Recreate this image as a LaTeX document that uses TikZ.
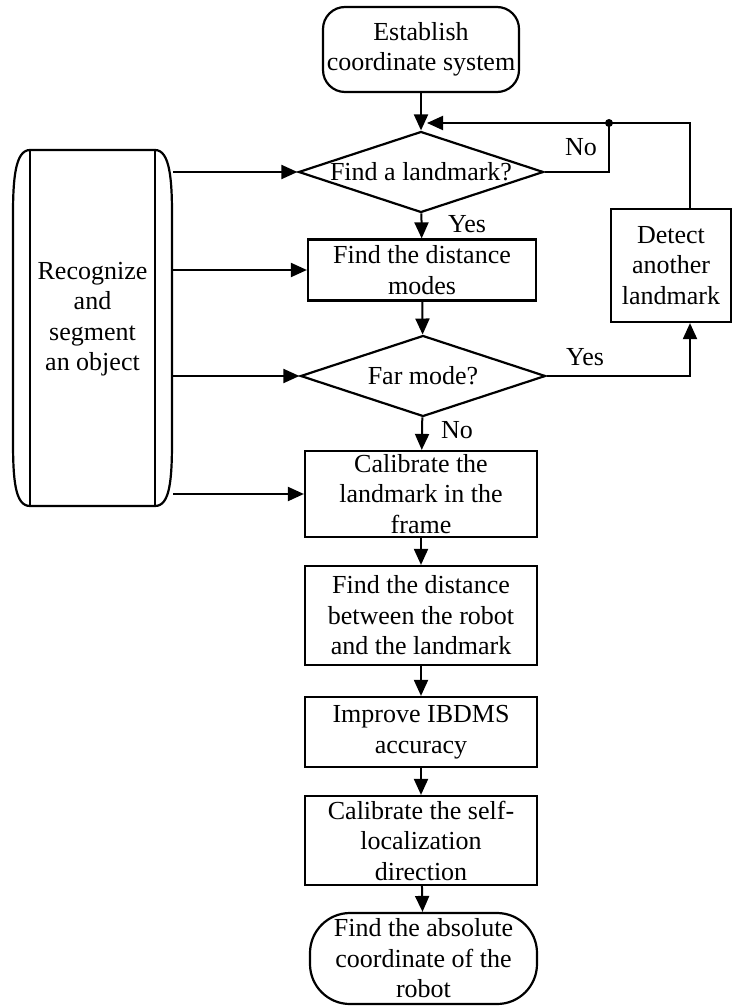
\documentclass[tikz,border=0pt]{standalone}
\usepackage{fontspec}
\setmainfont{Liberation Serif}
\usepackage{tikz}
\usetikzlibrary{arrows.meta, shapes.geometric, calc}

\begin{document}
\begin{tikzpicture}[
  x=1pt, y=-1pt,
  font=\fontsize{26}{30.5}\selectfont,
  line width=2.2pt,
  box/.style={draw, rectangle, align=center, inner sep=0pt, minimum width=232pt},
  term/.style={draw, rectangle, align=center, inner sep=0pt},
  decision/.style={draw, diamond, aspect=3, inner sep=0pt,
    minimum width=245pt, minimum height=81pt, align=center},
  plain/.style={align=center, inner sep=0pt},
  flow/.style={-{Triangle[length=16pt,width=14pt]}, line width=2pt},
  link/.style={line width=2pt}
]
\useasboundingbox (0,0) rectangle (732,1008);

\node[term, rounded corners=22pt, minimum width=196pt, minimum height=85pt] (start) at (421,49.5)
  {Establish\\coordinate system};
\node[decision] (d1) at (421,172) {Find a landmark?};
\node[box, minimum width=228pt, minimum height=61pt] (modes) at (422,270)
  {Find the distance\\modes};
\node[decision] (d2) at (423,376) {Far mode?};
\node[box, minimum height=86pt] (calib) at (421,494)
  {Calibrate the\\landmark in the\\frame};
\node[box, minimum height=99pt] (dist) at (421,615.5)
  {Find the distance\\between the robot\\and the landmark};
\node[box, minimum height=70pt] (improve) at (421,732)
  {Improve IBDMS\\accuracy};
\node[box, minimum height=89pt] (selfloc) at (421,840.5)
  {Calibrate the self-\\localization\\direction};
\node[term, rounded corners=40pt, minimum width=227pt, minimum height=91pt] (finish) at (423.5,958.5)
  {Find the absolute\\coordinate of the\\robot};

\node[box, minimum width=120pt, minimum height=113pt] (detect) at (671,265.5)
  {Detect\\another\\landmark};

\node[plain, minimum width=159pt] (recog) at (92.5,319)
  {Recognize\\and\\segment\\an object};
\draw (30,150) -- (155,150) .. controls (170,150) and (172,180) .. (172,215)
  -- (172,440) .. controls (172,480) and (170,506) .. (155,506)
  -- (30,506) .. controls (15,506) and (13,480) .. (13,440)
  -- (13,215) .. controls (13,180) and (15,150) .. (30,150) -- cycle;
\draw (30,150) -- (30,506);
\draw (155,150) -- (155,506);

\node[plain] (yes1) at (467,224) {Yes};
\node[plain] (no1) at (581,147) {No};
\node[plain] (yes2) at (585,357) {Yes};
\node[plain] (no2) at (457,430) {No};

\coordinate (merge) at (427,123);
\coordinate (junc) at (609,123);
\coordinate (rail) at (690,123);

\draw[flow] (start) -- (d1);
\draw[flow] (d1) -- (modes);
\draw[flow] (modes) -- (d2);
\draw[flow] (d2) -- (calib);
\draw[flow] (calib) -- (dist);
\draw[flow] (dist) -- (improve);
\draw[flow] (improve) -- (selfloc);
\draw[flow] (selfloc) -- (finish);

\draw[flow] (d1.east) -| (junc) -- (merge);
\fill (junc) circle (4pt);
\draw[link] (detect.north -| rail) -- (rail) -- (junc);
\draw[flow] (d2.east) -| (detect.south -| rail);

\draw[flow] (recog.east |- d1.west) -- (d1.west);
\draw[flow] (recog.east |- modes.west) -- (modes.west);
\draw[flow] (recog.east |- d2.west) -- (d2.west);
\draw[flow] (recog.east |- calib.west) -- (calib.west);

\end{tikzpicture}
\end{document}
